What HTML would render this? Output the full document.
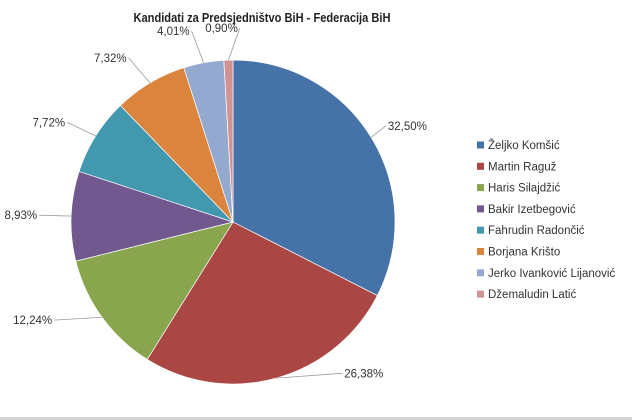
<!DOCTYPE html>
<html><head><meta charset="utf-8"><style>
html,body{margin:0;padding:0;background:#fff;}
svg{display:block;font-family:"Liberation Sans",sans-serif;}
</style></head><body>
<svg id="chart" width="632" height="420" viewBox="0 0 632 420">
<rect x="0" y="0" width="632" height="420" fill="#fff"/>
<rect x="0" y="417" width="632" height="3" fill="#d4d4d4"/>
<text x="262" y="22" text-anchor="middle" font-size="13" font-weight="bold" fill="#222" textLength="257" lengthAdjust="spacingAndGlyphs">Kandidati za Predsjedništvo BiH - Federacija BiH</text>
<g id="slices"></g>
<g id="labels"></g>
<g id="legend"></g>
</svg>
<script>
const categories = ["Željko Komšić","Martin Raguž","Haris Silajdžić","Bakir Izetbegović","Fahrudin Radončić","Borjana Krišto","Jerko Ivanković Lijanović","Džemaludin Latić"];
const values = [32.50, 26.38, 12.24, 8.93, 7.72, 7.32, 4.01, 0.90];
const valueLabels = ["32,50%","26,38%","12,24%","8,93%","7,72%","7,32%","4,01%","0,90%"];
const colors = ["#4572a7","#aa4643","#89a54e","#71588f","#4198af","#db843d","#93a9cf","#d19392"];
// label layout (pixel offsets relative to the radial position, not data)
const labelNudge = [[-4,0],[60,-26],[-30,-10],[-10,0],[-10,-2],[-10,-6],[-8,-10],[12,-10]];

const NS="http://www.w3.org/2000/svg";
const cx=233, cy=222, r=162;
const total=values.reduce((a,b)=>a+b,0);
function pt(frac, rad){const a=frac*2*Math.PI;return [cx+rad*Math.sin(a), cy-rad*Math.cos(a)];}
const gS=document.getElementById('slices'), gL=document.getElementById('labels'), gG=document.getElementById('legend');
let cum=0;
values.forEach((v,i)=>{
  const f0=cum/total, f1=(cum+v)/total; cum+=v;
  const p0=pt(f0,r), p1=pt(f1,r);
  const large=(f1-f0)>0.5?1:0;
  const path=document.createElementNS(NS,'path');
  path.setAttribute('d',`M${cx},${cy} L${p0[0]},${p0[1]} A${r},${r} 0 ${large} 1 ${p1[0]},${p1[1]} Z`);
  path.setAttribute('fill',colors[i]);
  path.setAttribute('stroke','#fff');
  path.setAttribute('stroke-width','0.7');
  
  
  gS.appendChild(path);
  const fm=(f0+f1)/2;
  const e=pt(fm,r), o=pt(fm,r+22);
  const right=Math.sin(fm*2*Math.PI)>=0;
  const lx=o[0]+labelNudge[i][0], ly=o[1]+labelNudge[i][1];
  const line=document.createElementNS(NS,'polyline');
  line.setAttribute('points',`${e[0]},${e[1]} ${lx},${ly}`);
  line.setAttribute('fill','none');
  line.setAttribute('stroke','#999');
  line.setAttribute('stroke-width','0.8');
  
  
  gL.appendChild(line);
  const t=document.createElementNS(NS,'text');
  t.setAttribute('x', right? lx+2 : lx-2);
  t.setAttribute('y', ly+4);
  t.setAttribute('text-anchor', right?'start':'end');
  t.setAttribute('font-size','11.5');
  t.setAttribute('fill','#333');
  t.textContent=valueLabels[i];
  
  
  gL.appendChild(t);
});
categories.forEach((c,i)=>{
  const y=145+i*21.3;
  const s=document.createElementNS(NS,'rect');
  s.setAttribute('x',477);s.setAttribute('y',y-3.5);s.setAttribute('width',7);s.setAttribute('height',7);
  s.setAttribute('fill',colors[i]);
  
  
  gG.appendChild(s);
  const t=document.createElementNS(NS,'text');
  t.setAttribute('x',488);t.setAttribute('y',y+4);
  t.setAttribute('font-size','11.5');t.setAttribute('fill','#333');
  t.textContent=c;
  
  
  gG.appendChild(t);
});
</script>
</body></html>
